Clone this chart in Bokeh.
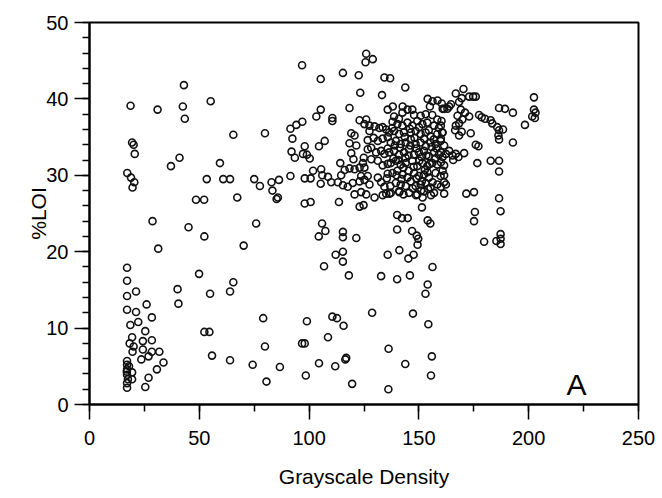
from bokeh.plotting import figure
from bokeh.models import Range1d, SingleIntervalTicker, Label, ColumnDataSource
from bokeh.embed import file_html
from bokeh.resources import INLINE

# ---- data (Grayscale Density vs %LOI) ----
# lower-left group and the column near x ~ 17
dens_low_left = [28.7, 45.1, 52.3, 75.9, 31.3, 70.2,
                 17.1, 17.1, 21.2, 17.1, 26.0, 17.1, 21.2, 28.4, 22.2, 18.6, 25.4, 19.4, 24.3, 28.4,
                 18.3, 20.1, 24.3, 19.6, 28.4, 31.8, 26.9, 23.6, 17.1, 33.7,
                 17.1, 17.1, 30.7, 19.4, 17.1, 19.4, 26.9, 17.1, 17.1, 25.4,
                 17.5, 17.0, 18.0,
                 40.1, 40.5, 49.9, 54.9, 65.5, 64.0, 52.3, 54.6, 55.8, 64.0, 74.3,
                 48.5, 52.2, 67.3]
loi_low_left = [24.0, 23.2, 22.0, 23.7, 20.4, 20.8,
                17.9, 16.2, 14.8, 14.2, 13.1, 12.4, 12.1, 11.4, 10.8, 10.4, 9.6, 8.8, 8.3, 8.4,
                8.0, 7.6, 7.2, 6.9, 6.9, 6.9, 6.3, 5.9, 5.7, 5.5,
                5.2, 4.6, 4.6, 4.2, 3.9, 3.3, 3.5, 2.8, 2.2, 2.3,
                3.3, 4.3, 5.0,
                15.1, 13.2, 17.1, 14.5, 16.0, 14.8, 9.5, 9.5, 6.4, 5.8, 5.2,
                26.8, 26.8, 27.1]

# upper-left group
dens_up_left = [43.0, 18.7, 31.0, 42.5, 55.2, 43.4, 65.5, 19.4, 20.1, 20.6, 41.0, 37.1, 59.4,
                17.2, 18.9, 20.4, 19.6, 53.4, 60.9, 64.0, 75.0, 77.6]
loi_up_left = [41.8, 39.1, 38.6, 39.0, 39.7, 37.4, 35.3, 34.3, 34.0, 32.8, 32.3, 31.2, 31.6,
               30.3, 29.7, 29.1, 28.4, 29.5, 29.5, 29.5, 29.5, 28.6]

# upper-middle group
dens_up_mid = [126.0, 129.0, 125.7, 96.8, 105.3, 115.4, 122.6, 134.3, 136.9, 123.3, 133.2,
               118.4, 105.3, 103.3, 110.6, 110.6, 96.9, 94.2, 91.5, 79.9, 92.4,
               123.0, 126.0, 125.2, 127.5, 119.2, 120.7, 107.1, 104.5, 98.0, 92.0,
               93.5, 97.2, 99.0, 100.3, 118.4, 121.5, 119.2, 120.2, 114.2,
               82.9, 86.3, 83.3, 91.5, 98.0, 100.7, 101.8, 105.5, 106.0, 105.3, 108.6, 110.1,
               85.2, 85.8, 98.0, 100.7, 113.6, 123.0, 124.8]
loi_up_mid = [45.9, 45.2, 44.8, 44.4, 42.6, 43.4, 43.1, 42.8, 42.7, 40.8, 40.5,
              38.8, 38.6, 37.7, 37.5, 37.1, 37.0, 36.6, 36.1, 35.5, 34.8,
              37.2, 37.3, 36.7, 36.5, 35.5, 35.2, 34.5, 33.8, 33.8, 33.1,
              32.3, 32.8, 32.7, 32.2, 34.2, 33.9, 32.9, 32.1, 31.6,
              29.1, 29.4, 28.0, 29.9, 29.6, 29.6, 30.6, 30.8, 30.0, 28.9, 29.8, 29.1,
              26.9, 27.1, 26.3, 26.5, 26.5, 25.9, 26.1]

# left edge of the dense cluster
dens_cl_left = [135.8, 127.5, 129.8, 132.0, 133.5, 135.1, 126.7, 129.4, 131.3, 133.5, 135.8,
                126.7, 128.3, 130.5, 132.8, 134.3, 135.8, 124.9, 124.5, 118.4, 116.2, 120.7, 123.0, 125.2,
                128.3, 131.3, 133.5, 135.8, 113.1, 115.4, 117.6, 119.9, 123.0, 125.2, 127.5,
                114.6, 123.7, 126.7, 120.7, 123.7, 126.0, 129.8, 131.3, 132.8, 134.3, 135.8, 135.1]
loi_cl_left = [38.6, 35.8, 36.4, 36.2, 36.3, 36.0, 34.6, 34.9, 34.5, 34.8, 35.0,
               33.4, 33.6, 33.0, 33.2, 32.8, 33.5, 32.3, 31.6, 30.9, 30.7, 30.8, 31.0, 31.0,
               32.1, 31.9, 31.3, 31.5, 29.1, 28.7, 28.5, 29.0, 29.2, 29.4, 28.8,
               30.0, 29.9, 29.9, 27.5, 27.8, 27.5, 27.1, 29.7, 29.1, 28.5, 30.2, 27.6]

# dense core of the cluster
dens_core = [155.0, 144.8, 147.0, 138.7, 142.5, 147.8, 150.8, 153.1, 156.1, 158.4, 160.3,
             138.0, 140.2, 142.5, 144.8, 147.0, 149.3, 151.6, 153.8, 156.9, 159.1,
             136.5, 138.7, 141.0, 143.2, 146.3, 148.5, 150.8, 153.1, 155.3, 158.4, 160.6,
             137.2, 139.5, 141.7, 144.0, 146.3, 148.5, 150.8, 153.1, 155.3, 157.6, 159.9,
             136.5, 138.7, 141.0, 143.2, 145.5, 147.8, 150.0, 152.3, 154.6, 156.9, 159.1,
             137.2, 139.5, 141.7, 144.0, 147.0, 149.3, 151.6, 153.8, 156.1, 158.4,
             138.0, 140.2, 142.5, 144.8, 147.8, 150.0, 152.3, 154.6, 157.6, 159.9,
             139.5, 141.7, 144.0, 146.3, 148.5, 150.8, 153.1, 155.3, 158.4,
             137.2, 141.0, 145.5, 149.3, 152.3, 156.9,
             148.7, 151.7, 155.5, 133.5, 136.6, 141.1, 161.5, 171.6, 175.1,
             137.8, 140.9, 143.6, 145.9, 148.0, 150.1, 152.4, 154.5, 156.8,
             139.0, 141.4, 143.9, 146.1, 148.9, 151.2, 153.4, 155.8, 158.0,
             138.4, 140.6, 142.9, 145.3, 147.6, 150.2, 152.7, 154.9, 157.3,
             139.8, 142.1, 145.4, 148.9, 151.3, 153.9, 156.2, 143.0, 147.2, 151.0, 154.2, 137.0, 135.4]
loi_core = [39.0, 38.6, 38.6, 37.7, 38.2, 37.9, 37.8, 38.0, 37.9, 37.3, 37.1,
            37.0, 36.7, 36.5, 36.9, 36.5, 37.1, 36.7, 36.9, 36.5, 36.2,
            35.6, 35.8, 35.4, 35.6, 35.6, 35.8, 35.4, 35.6, 35.1, 35.4, 35.6,
            34.3, 34.5, 34.1, 34.3, 34.7, 34.1, 34.3, 33.8, 34.3, 34.1, 34.5,
            33.0, 33.2, 32.7, 33.0, 33.4, 32.7, 33.0, 33.2, 32.5, 33.0, 32.7,
            31.6, 31.9, 31.4, 31.6, 31.9, 31.2, 31.6, 31.2, 31.6, 31.4,
            30.3, 30.6, 30.1, 29.7, 30.3, 29.9, 30.1, 29.7, 30.3, 29.9,
            29.0, 28.8, 28.6, 29.2, 28.6, 28.8, 29.0, 28.4, 28.8,
            27.7, 27.9, 27.7, 27.5, 27.9, 27.7,
            27.4, 27.1, 27.4, 27.4, 27.6, 27.8, 27.6, 27.6, 27.8,
            36.2, 37.4, 35.0, 36.1, 34.9, 36.3, 34.8, 35.9, 34.7,
            33.9, 33.6, 32.3, 33.9, 33.5, 32.4, 32.6, 33.7, 33.5,
            32.2, 32.0, 31.0, 32.6, 31.1, 31.9, 30.7, 31.5, 32.2,
            30.0, 29.5, 30.6, 29.6, 29.2, 30.4, 29.1, 27.5, 28.3, 28.0, 28.2, 28.6, 29.6]

# right side of the cluster
dens_cl_right = [143.8, 138.1, 142.6, 154.0, 156.2, 158.5, 160.4, 170.3, 166.8, 172.9, 174.7, 175.9,
                 164.6, 168.3, 169.5, 161.5, 163.8, 160.8, 163.0,
                 171.0, 172.9, 169.1, 167.6, 169.8, 168.3, 166.8, 166.5, 177.4, 180.1, 182.7, 178.6, 183.4,
                 173.6, 168.3, 169.5, 175.9, 177.1, 170.6, 168.0, 165.6, 176.6, 182.7,
                 161.5, 162.3, 151.4, 175.5, 175.1,
                 160.0, 160.8, 160.0, 161.5, 160.0, 160.8, 162.3, 163.8, 165.3, 166.8, 160.0, 161.5,
                 160.8, 161.5, 160.0]
loi_cl_right = [41.5, 39.0, 39.0, 40.0, 39.7, 39.8, 39.4, 41.3, 40.7, 40.3, 40.3, 40.3,
                39.3, 39.6, 40.1, 38.7, 39.0, 38.7, 38.7,
                38.2, 37.7, 38.6, 37.8, 37.3, 36.8, 36.5, 35.9, 37.9, 37.4, 37.2, 37.6, 36.8,
                35.5, 35.2, 35.7, 34.0, 33.8, 32.9, 32.4, 32.0, 31.6, 31.9,
                29.1, 28.8, 25.8, 25.2, 24.0,
                36.5, 35.6, 34.8, 33.9, 33.0, 32.4, 32.8, 33.2, 32.6, 32.8, 31.7, 31.3,
                30.6, 30.0, 28.5]

# column near x ~ 187 and points at the far right
dens_right = [186.5, 189.2, 192.8, 185.7, 186.5, 186.2, 186.5, 188.3, 192.8, 186.5, 186.5, 186.5,
              187.2, 187.2, 187.2, 187.2, 185.3, 179.7,
              202.4, 198.3, 202.4, 203.1, 201.6, 202.8]
loi_right = [38.8, 38.7, 38.2, 36.3, 35.9, 35.2, 34.7, 36.0, 34.3, 31.9, 30.5, 27.0,
             25.3, 22.3, 21.7, 21.0, 21.4, 21.3,
             40.2, 36.6, 38.6, 38.2, 37.7, 37.5]

# below the cluster (x ~ 130-160)
dens_below = [140.1, 142.3, 144.9, 154.0, 155.2, 140.1, 146.9, 149.0, 149.7, 149.4, 141.1, 135.8,
              145.2, 147.6, 156.2, 132.8, 140.1, 145.9, 154.0, 153.0, 147.3, 154.3, 136.2, 155.9,
              143.8, 155.5, 136.1]
loi_below = [24.8, 24.4, 24.4, 24.1, 23.7, 22.9, 22.7, 22.1, 21.7, 20.9, 20.2, 19.6,
             19.1, 19.6, 18.0, 16.8, 16.4, 16.9, 15.7, 14.5, 11.9, 10.5, 7.3, 6.3,
             5.3, 3.8, 2.0]

# lower middle (x ~ 80-130)
dens_low_mid = [105.9, 107.4, 104.4, 115.4, 115.4, 121.5, 112.1, 115.4, 115.4, 106.8, 118.1,
                79.1, 99.0, 110.6, 112.7, 115.7, 128.7, 79.9, 96.8, 98.0, 108.6,
                86.7, 104.5, 111.9, 116.5, 116.9, 80.6, 98.5, 119.6]
loi_low_mid = [23.7, 22.7, 22.0, 22.6, 21.9, 21.8, 19.6, 20.0, 18.7, 18.1, 16.9,
               11.3, 10.9, 11.5, 11.3, 10.3, 12.0, 7.6, 8.0, 8.0, 8.8,
               4.9, 5.4, 5.0, 5.9, 6.1, 3.0, 3.8, 2.7]

groups = [(dens_low_left, loi_low_left), (dens_up_left, loi_up_left), (dens_up_mid, loi_up_mid),
          (dens_cl_left, loi_cl_left), (dens_core, loi_core), (dens_cl_right, loi_cl_right),
          (dens_right, loi_right), (dens_below, loi_below), (dens_low_mid, loi_low_mid)]
xs, ys = [], []
for gx, gy in groups:
    assert len(gx) == len(gy), (len(gx), len(gy))
    xs.extend(gx)
    ys.extend(gy)

x_ticks_interval = 50
y_ticks_interval = 10

FONT = "Liberation Sans"

p = figure(width=662, height=498, x_range=Range1d(0, 250), y_range=Range1d(0, 50),
           output_backend="svg", toolbar_location=None,
           min_border_left=89, min_border_right=24, min_border_top=22, min_border_bottom=94)
p.background_fill_color = "white"
p.border_fill_color = "white"
p.xgrid.visible = False
p.ygrid.visible = False
p.outline_line_color = "black"
p.outline_line_width = 2

p.xaxis.ticker = SingleIntervalTicker(interval=x_ticks_interval, num_minor_ticks=2)
p.yaxis.ticker = SingleIntervalTicker(interval=y_ticks_interval, num_minor_ticks=5)

for ax in (p.xaxis[0], p.yaxis[0]):
    ax.axis_line_width = 2
    ax.axis_line_color = "black"
    ax.major_tick_line_width = 1.5
    ax.minor_tick_line_width = 1.5
    ax.major_tick_line_color = "black"
    ax.minor_tick_line_color = "black"
    ax.major_tick_in = 0
    ax.major_tick_out = 15
    ax.minor_tick_in = 0
    ax.minor_tick_out = 7
    ax.major_label_text_font = FONT
    ax.major_label_text_font_size = "20px"
    ax.major_label_text_color = "black"
    ax.axis_label_text_font = FONT
    ax.axis_label_text_font_size = "21px"
    ax.axis_label_text_font_style = "normal"
    ax.axis_label_text_color = "black"

p.xaxis.axis_label = "Grayscale Density"
p.yaxis.axis_label = "%LOI"
p.xaxis.major_label_standoff = 11
p.yaxis.major_label_standoff = 6
p.xaxis.axis_label_standoff = 17
p.yaxis.axis_label_standoff = -7

src = ColumnDataSource(data=dict(x=xs, y=ys))
p.scatter("x", "y", source=src, marker="circle", size=7, fill_color=None,
          line_color="#111111", line_width=1.6)

p.add_layout(Label(x=221.8, y=0.4, text="A", text_align="center", text_baseline="bottom",
                   text_font=FONT, text_font_size="30px", text_color="black"))

open("out.html", "w").write(file_html(p, INLINE))
